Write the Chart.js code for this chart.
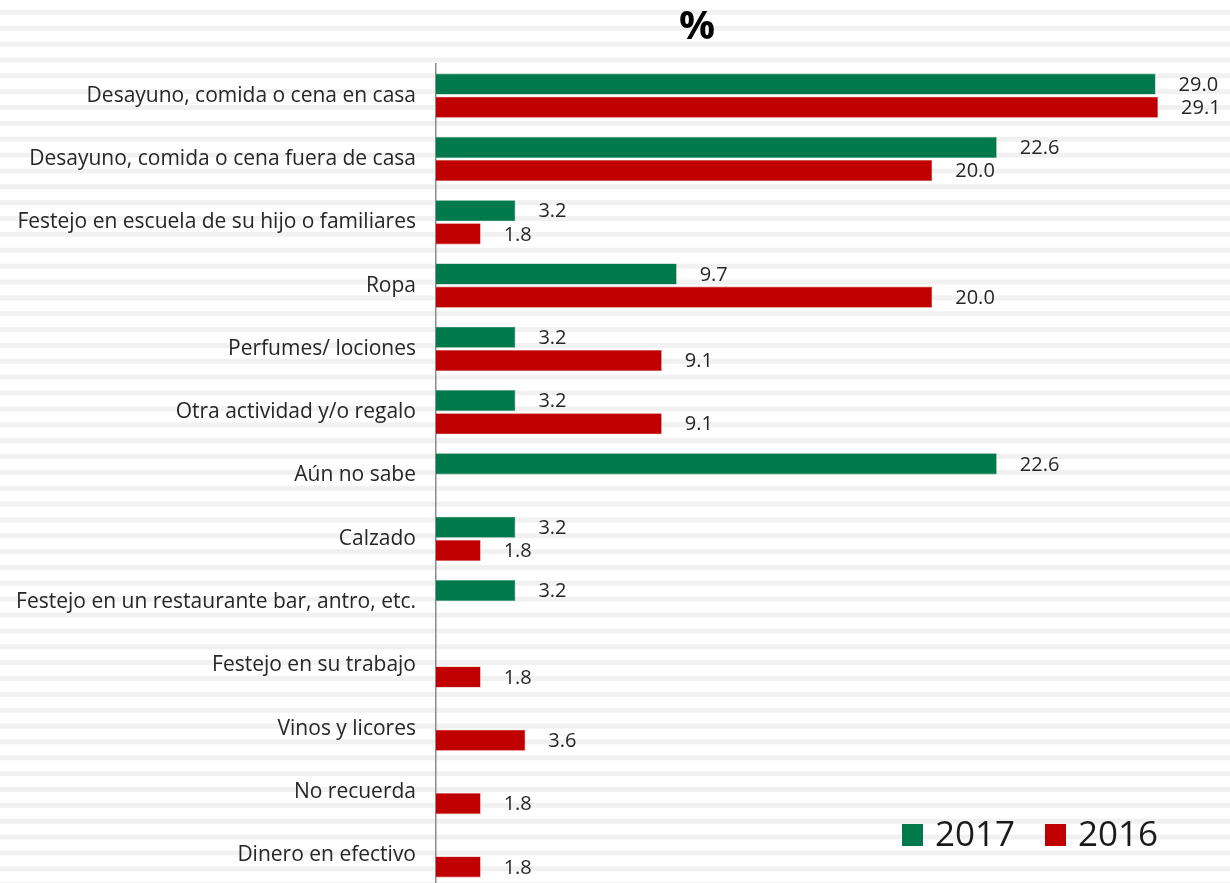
<!DOCTYPE html>
<html>
<head>
<meta charset="utf-8">
<script src="https://cdn.jsdelivr.net/npm/chart.js@4"></script>
<style>
  html, body {
    margin: 0;
    padding: 0;
    overflow: hidden;
    background-color: #ffffff;
    /* faint horizontal stripes behind the whole chart */
    background-image: repeating-linear-gradient(to bottom,
      #ffffff 0px, #ffffff 9.5px, #f1f1f1 9.5px, #f1f1f1 15px, #ffffff 15px, #ffffff 15.87px);
    background-size: 100% 15.87px;
  }
  #chart { display: block; }
</style>
</head>
<body>
<canvas id="chart" width="1230" height="887"></canvas>
<script>
// Categories (top to bottom)
const categories = [
  'Desayuno, comida o cena en casa',
  'Desayuno, comida o cena fuera de casa',
  'Festejo en escuela de su hijo o familiares',
  'Ropa',
  'Perfumes/ lociones',
  'Otra actividad y/o regalo',
  'Aún no sabe',
  'Calzado',
  'Festejo en un restaurante bar, antro, etc.',
  'Festejo en su trabajo',
  'Vinos y licores',
  'No recuerda',
  'Dinero en efectivo'
];

// Series values (%), null = no bar
const values2017 = [29.0, 22.6, 3.2, 9.7, 3.2, 3.2, 22.6, 3.2, 3.2, null, null, null, null];
const values2016 = [29.1, 20.0, 1.8, 20.0, 9.1, 9.1, null, 1.8, null, 1.8, 3.6, 1.8, 1.8];

const seriesLabels = ['2017', '2016'];
const seriesColors = ['#007A4D', '#C00000'];
const titleText = '%';

const fontFamily = '"Open Sans", "Liberation Sans", sans-serif';

// Title "%" above the bars
const topTitle = {
  id: 'topTitle',
  afterDraw(chart) {
    const ctx = chart.ctx;
    ctx.save();
    ctx.font = 'bold 40px ' + fontFamily;
    ctx.fillStyle = '#000000';
    ctx.textAlign = 'center';
    ctx.textBaseline = 'middle';
    ctx.fillText(titleText, 697, 28);
    ctx.restore();
  }
};

// Value labels at the end of each bar
const valueLabels = {
  id: 'valueLabels',
  afterDatasetsDraw(chart) {
    const ctx = chart.ctx;
    ctx.save();
    ctx.font = '20px ' + fontFamily;
    ctx.fillStyle = '#262626';
    ctx.textAlign = 'left';
    ctx.textBaseline = 'middle';
    chart.data.datasets.forEach(function(ds, i) {
      const meta = chart.getDatasetMeta(i);
      meta.data.forEach(function(bar, j) {
        const v = ds.data[j];
        if (v === null || v === undefined) return;
        ctx.fillText(v.toFixed(1), bar.x + 23, bar.y + 1);
      });
    });
    ctx.restore();
  }
};

// Legend drawn in the lower right corner of the plot
const cornerLegend = {
  id: 'cornerLegend',
  afterDraw(chart) {
    const ctx = chart.ctx;
    const xs = [902, 1045];
    ctx.save();
    ctx.font = '35px ' + fontFamily;
    ctx.textBaseline = 'middle';
    ctx.textAlign = 'left';
    chart.data.datasets.forEach(function(ds, i) {
      ctx.fillStyle = ds.backgroundColor;
      ctx.fillRect(xs[i], 824, 21, 22);
      ctx.fillStyle = '#1a1a1a';
      ctx.fillText(ds.label, xs[i] + 33, 836);
    });
    ctx.restore();
  }
};

const ctx = document.getElementById('chart');
const myChart = new Chart(ctx, {
  type: 'bar',
  data: {
    labels: categories,
    datasets: [
      {
        label: seriesLabels[0],
        data: values2017,
        backgroundColor: seriesColors[0],
        borderColor: '#4f9c7d',
        borderWidth: 0.6,
        barPercentage: 0.91,
        categoryPercentage: 0.732
      },
      {
        label: seriesLabels[1],
        data: values2016,
        backgroundColor: seriesColors[1],
        borderColor: '#d65a5a',
        borderWidth: 0.6,
        barPercentage: 0.91,
        categoryPercentage: 0.732
      }
    ]
  },
  options: {
    indexAxis: 'y',
    responsive: false,
    animation: false,
    layout: {
      padding: { left: 0, right: 0, top: 64, bottom: 0 }
    },
    scales: {
      x: {
        display: false,
        min: 0,
        max: 32
      },
      y: {
        grid: { display: false, drawTicks: false },
        border: { display: true, color: '#8c8c8c', width: 1.5 },
        ticks: {
          padding: 20,
          color: '#262626',
          font: { family: fontFamily, size: 21 }
        },
        afterFit: function(scale) {
          // fixed label column, no extra space above/below the bars
          scale.width = 436;
          scale.paddingTop = 0;
          scale.paddingBottom = 0;
        }
      }
    },
    plugins: {
      legend: { display: false },
      tooltip: { enabled: false },
      title: { display: false }
    }
  },
  plugins: [valueLabels, cornerLegend, topTitle]
});
</script>
</body>
</html>
